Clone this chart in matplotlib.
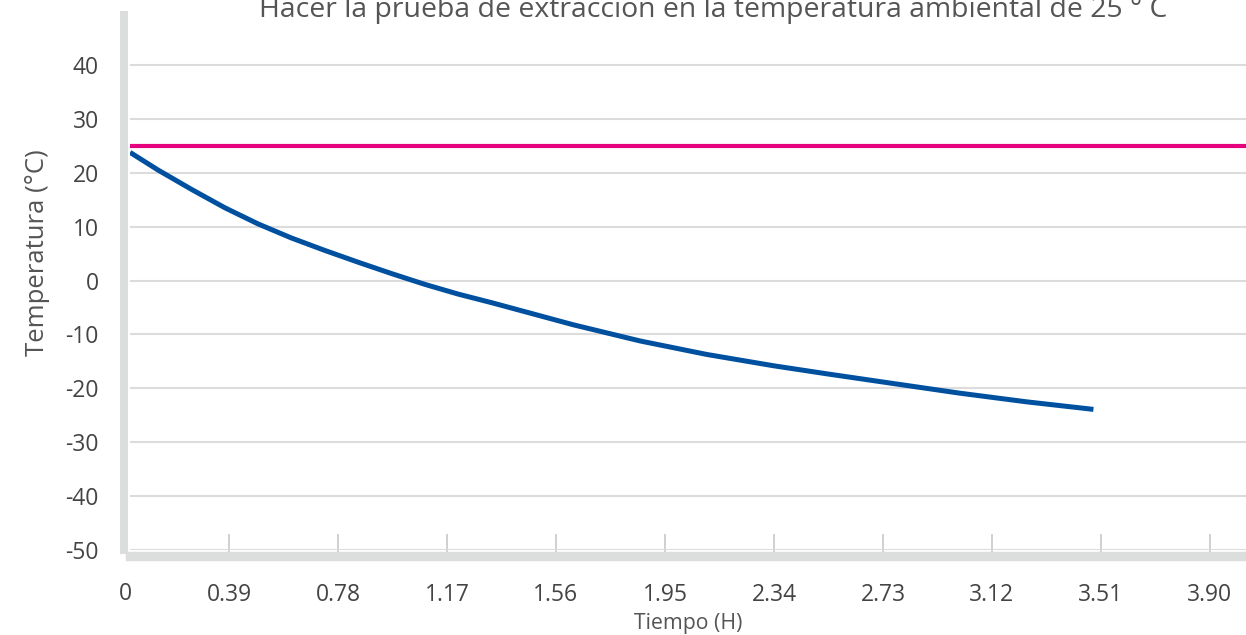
import matplotlib.pyplot as plt
import numpy as np

plt.rcParams['font.family'] = ['Open Sans', 'DejaVu Sans']
plt.rcParams['axes.unicode_minus'] = False

# tiempo (h) y temperatura (°C)
tiempo = [0.036, 0.137, 0.257, 0.376, 0.495, 0.614, 0.733, 0.853, 0.972,
          1.091, 1.210, 1.330, 1.437, 1.622, 1.861, 2.099, 2.338, 2.529,
          2.767, 3.006, 3.244, 3.483]
temp_muestra = [23.8, 20.5, 16.9, 13.5, 10.5, 7.9, 5.6, 3.4, 1.3,
                -0.7, -2.5, -4.1, -5.6, -8.2, -11.2, -13.7, -15.8, -17.3,
                -19.1, -20.9, -22.5, -23.9]
tiempo_amb = [0.036, 4.03]
temp_amb = [25.0, 25.0]

x_ticks = [0.39, 0.78, 1.17, 1.56, 1.95, 2.34, 2.73, 3.12, 3.51, 3.90]
x_labels = ['0.39', '0.78', '1.17', '1.56', '1.95', '2.34', '2.73', '3.12', '3.51', '3.90']
y_ticks = [-50, -40, -30, -20, -10, 0, 10, 20, 30, 40]

W, H = 1246, 635
fig = plt.figure(figsize=(W / 100, H / 100), dpi=100)
ax = fig.add_axes([130 / W, (H - 550) / H, (W - 130) / W, 535 / H])

ax.plot(tiempo_amb, temp_amb, color='#e6007e', linewidth=3.0, solid_capstyle='butt', zorder=3)
ax.plot(tiempo, temp_muestra, color='#0050a0', linewidth=3.6, solid_capstyle='butt',
        solid_joinstyle='round', zorder=4)

ax.set_xlim(0.0358, 4.029)
ax.set_ylim(-50, 49.3)

ax.set_xticks(x_ticks)
ax.set_xticklabels(x_labels)
ax.set_yticks(y_ticks)
ax.set_yticklabels([str(v) for v in y_ticks])

ax.set_axisbelow(True)
ax.yaxis.grid(True, color='#dcdcdc', linewidth=1.5)
ax.xaxis.grid(False)

for s in ['top', 'right']:
    ax.spines[s].set_visible(False)
ax.spines['left'].set_position(('outward', 4))
ax.spines['left'].set_linewidth(5.8)
ax.spines['left'].set_color('#dcdddd')
ax.spines['bottom'].set_position(('outward', 4.5))
ax.spines['bottom'].set_linewidth(6.8)
ax.spines['bottom'].set_color('#dcdddd')

ax.tick_params(axis='x', direction='in', length=15.5, width=1.2, color='#c8c8c8',
               pad=19.5, labelsize=16.5, labelcolor='#444444')
ax.tick_params(axis='y', length=0, pad=18.5, labelsize=16.5, labelcolor='#444444')

# etiqueta "0" en el origen
ax.annotate('0', xy=(0, 0), xycoords='axes fraction', xytext=(-5, -31.5),
            textcoords='offset pixels', ha='center', va='top', fontsize=16.5,
            color='#444444', annotation_clip=False)

ax.set_xlabel('Tiempo (H)', fontsize=15.3, color='#555555', labelpad=4)
ax.set_ylabel('Temperatura (°C)', fontsize=18.5, color='#555555')
ax.yaxis.set_label_coords(-80 / (W - 130), (550 - 253) / 535)

fig.text(713 / W, 1 - 17 / H, 'Hacer la prueba de extracción en la temperatura ambiental de 25 ° C',
         ha='center', va='baseline', fontsize=20.4, color='#555555')

plt.savefig('out.png', dpi=100)
